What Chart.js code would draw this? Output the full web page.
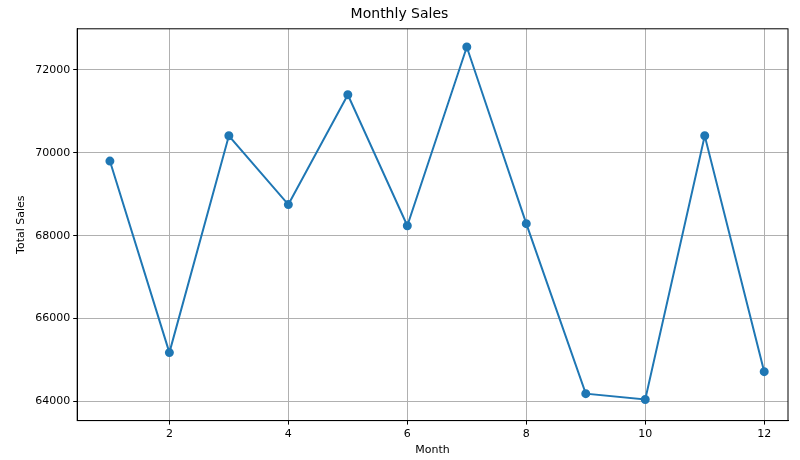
<!DOCTYPE html>
<html><head><script src="https://cdn.jsdelivr.net/npm/chart.js"></script>
<style>html,body{margin:0;background:#fff}#w{width:800px;height:460px}</style></head>
<body><div id="w"><canvas id="c"></canvas></div>
<script>
const months=[1,2,3,4,5,6,7,8,9,10,11,12];
const sales=[69800,65180,70410,68750,71400,68240,72550,68290,64190,64050,70410,64720];
const xTicks=[2,4,6,8,10,12];
const yTicks=[64000,66000,68000,70000,72000];
Chart.defaults.font.family='DejaVu Sans';
Chart.defaults.color='#000';
const frame={id:'frame',afterDraw(ch){const a=ch.chartArea,c=ch.ctx;c.save();c.strokeStyle='#000';c.lineWidth=1;c.strokeRect(a.left,a.top,a.right-a.left,a.bottom-a.top);c.restore();}};
new Chart(document.getElementById('c'),{type:'scatter',plugins:[frame],
data:{datasets:[{data:months.map((m,i)=>({x:m,y:sales[i]})),showLine:true,borderColor:'#1f77b4',backgroundColor:'#1f77b4',borderWidth:2,pointRadius:3.5,pointHoverRadius:3.5}]},
options:{responsive:true,maintainAspectRatio:false,animation:false,
layout:{padding:{left:11,right:12,top:4,bottom:3}},
plugins:{legend:{display:false},tooltip:{enabled:false},title:{display:true,text:'Monthly Sales',font:{size:14,weight:'normal'},padding:{top:2,bottom:6}}},
scales:{
x:{type:'linear',min:0.45,max:12.4,afterBuildTicks:a=>{a.ticks=xTicks.map(v=>({value:v}))},
 grid:{color:'#b0b0b0',tickLength:4,tickColor:'#000'},border:{color:'#000'},ticks:{font:{size:11},maxRotation:0,callback:v=>String(v)},
 title:{display:true,text:'Month',font:{size:11},padding:{top:0,bottom:0}}},
y:{min:63540,max:72990,afterBuildTicks:a=>{a.ticks=yTicks.map(v=>({value:v}))},
 grid:{color:'#b0b0b0',tickLength:4,tickColor:'#000'},border:{color:'#000'},ticks:{font:{size:11},callback:v=>String(v)},
 title:{display:true,text:'Total Sales',font:{size:11}}}
}}});
</script></body></html>
